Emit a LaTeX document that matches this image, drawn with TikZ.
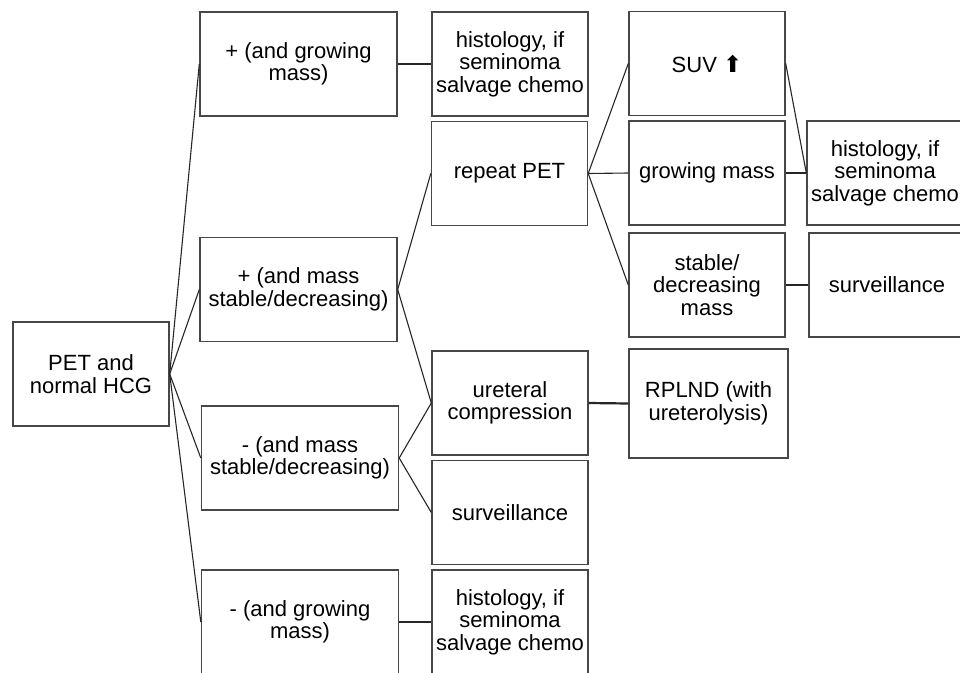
\documentclass[tikz,border=0pt]{standalone}
\usepackage{fontspec}
\setmainfont{Liberation Sans}
\newfontfamily\symfont{DejaVu Sans}

\begin{document}
\begin{tikzpicture}[x=1pt,y=-1pt,
    box/.style={rectangle,draw=black!72,line width=1.4pt,minimum width=156pt,minimum height=104pt,inner sep=0pt,align=center,font=\fontsize{22}{22.5}\selectfont},
    wide box/.style={box,minimum width=197pt},
    link/.style={draw=black!85,line width=1.1pt},
    bar/.style={draw=black!85,line width=2.2pt}]
    \clip (0,0) rectangle (960,672);

    \node[box] (pet) at (91,374) {PET and\\normal HCG};

    \node[wide box] (pg) at (298.5,64) {+ (and growing\\mass)};
    \node[wide box] (ps) at (298.5,289.5) {+ (and mass\\stable/decreasing)};
    \node[wide box] (ms) at (300,458) {- (and mass\\stable/decreasing)};
    \node[wide box] (mg) at (300,622) {- (and growing\\mass)};

    \node[box] (hist1) at (510,64) {histology, if\\seminoma\\salvage chemo};
    \node[box] (rpet) at (509.5,173.5) {repeat PET};
    \node[box] (uc) at (510,403) {ureteral\\compression};
    \node[box] (surv1) at (510,512.5) {surveillance};
    \node[box] (hist2) at (510,622) {histology, if\\seminoma\\salvage chemo};

    \node[box] (suv) at (707,63.5) {SUV {\symfont\fontsize{23}{23}\selectfont ⬆}};
    \node[box] (gm) at (707,173) {growing mass};
    \node[box] (sdm) at (707,285) {stable/\\decreasing\\mass};
    \node[box,minimum width=159pt,minimum height=109pt] (rpl) at (708.5,403.5) {RPLND (with\\ureterolysis)};

    \node[box] (hist3) at (885,173) {histology, if\\seminoma\\salvage chemo};
    \node[box] (surv2) at (887,285) {surveillance};

    \path[link]
        (pet.east) edge (pg.west)
        (pet.east) edge (ps.west)
        (pet.east) edge (ms.west)
        (pet.east) edge (mg.west)
        (ps.east) edge (rpet.west)
        (ps.east) edge (uc.west)
        (ms.east) edge (uc.west)
        (ms.east) edge (surv1.west)
        (rpet.east) edge (suv.west)
        (rpet.east) edge (gm.west)
        (rpet.east) edge (sdm.west)
        (suv.east) edge (hist3.west)
    ;

    \path[bar]
        (pg.east) edge (hist1.west)
        (mg.east) edge (hist2.west)
        (uc.east) edge (rpl.west)
        (gm.east) edge (hist3.west)
        (sdm.east) edge (surv2.west)
    ;
\end{tikzpicture}
\end{document}
